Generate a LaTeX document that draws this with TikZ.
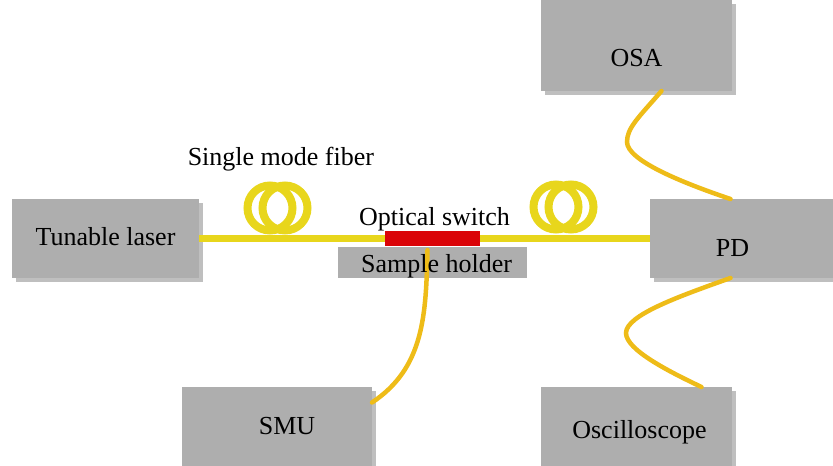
\documentclass[tikz,border=0pt]{standalone}
\usepackage{fontspec}
\setmainfont{Liberation Serif}
\definecolor{boxgray}{RGB}{174,174,174}
\definecolor{fiberyellow}{RGB}{232,214,28}
\definecolor{leadorange}{RGB}{238,188,24}
\definecolor{switchred}{RGB}{218,4,8}
\usetikzlibrary{positioning,shadows}
\newcommand{\lowered}[2]{\raisebox{#1}[0pt][0pt]{#2}}

\begin{document}
\begin{tikzpicture}[
  x=1pt, y=1pt,
  box/.style={fill=boxgray, outer sep=0pt, minimum height=79pt, font=\fontsize{26}{30}\selectfont,
    drop shadow={shadow xshift=4pt, shadow yshift=-4pt, fill=black, opacity=0.25}},
  holder/.style={fill=boxgray, outer sep=0pt, minimum width=189pt, minimum height=31pt},
  switch/.style={fill=switchred, outer sep=0pt, minimum width=95pt, minimum height=15pt},
  txt/.style={inner sep=0pt, font=\fontsize{26}{30}\selectfont},
  coil/.style={circle, draw=fiberyellow, line width=8pt, minimum size=45pt, inner sep=0pt, outer sep=0pt},
  fiber/.style={draw=fiberyellow, line width=6.5pt},
  lead/.style={draw=leadorange, line width=4.5pt, line cap=round}
]
  \useasboundingbox (0,0) rectangle (833,-466);
  \node[box, anchor=north west, minimum width=187pt] (laser) at (12,-199) {\lowered{-7pt}{Tunable laser}};
  \node[switch, right=186pt of laser] (optswitch) {};
  \node[holder, below=1pt of optswitch] (sample) {};
  \node[box, right=170pt of optswitch, minimum width=183pt] (pd) {\lowered{-18pt}{PD\hspace{18pt}}};
  \node[box, above left=108pt and -82pt of pd, minimum width=191pt, minimum height=91pt] (osa) {\lowered{-21pt}{OSA}};
  \node[box, below=296pt of osa, minimum width=191pt] (scope) {\lowered{-12pt}{\hspace{6pt}Oscilloscope}};
  \node[box, left=169pt of scope, minimum width=190pt] (smu) {\lowered{-8pt}{\hspace{20pt}SMU}};
  \foreach \cx/\cy/\name in {270/208/coilA, 285/208/coilB, 556/207/coilC, 571/207/coilD}
    \node[coil] (\name) at (\cx,-\cy) {};
  \node[txt, above=0pt of optswitch, xshift=2pt] (switchlabel) {Optical switch};
  \node[txt, above=21pt of coilA.north east, xshift=-5pt] (fiberlabel) {Single mode fiber};

  \draw[fiber] (laser) -- (optswitch);
  \draw[fiber] (optswitch) -- (pd);
  \draw[lead] ([xshift=25pt]osa.south) .. controls (638,-118) and (627,-128) .. (627,-142)
    .. controls (627,-160) and (680,-182) .. ([xshift=-11pt]pd.north);
  \draw[lead] ([xshift=-11pt]pd.south) .. controls (680,-296) and (626,-315) .. (626,-333)
    .. controls (626,-350) and (670,-372) .. ([xshift=65pt]scope.north);
  \draw[lead] ([xshift=-5pt,yshift=-4pt]optswitch.south) .. controls (426,-315) and (424,-368) .. ([yshift=24pt]smu.east);
  \node[txt, at=(sample), xshift=4pt, yshift=-4pt] (samplelabel) {Sample holder};
\end{tikzpicture}
\end{document}
